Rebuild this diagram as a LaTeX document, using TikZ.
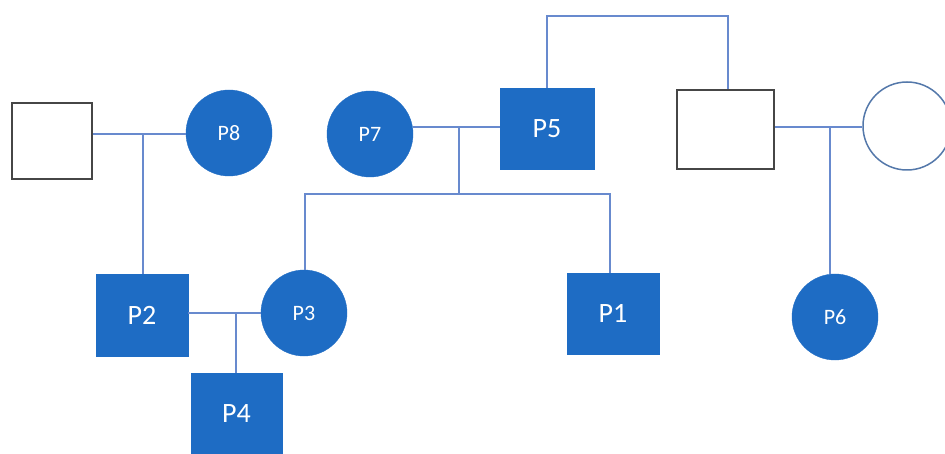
\documentclass[tikz,border=0pt]{standalone}
\usepackage{fontspec}
\setmainfont{Carlito}
\definecolor{pfill}{RGB}{30,108,196}
\definecolor{plink}{RGB}{104,138,206}
\definecolor{pgray}{RGB}{70,70,70}
\definecolor{pring}{RGB}{84,120,170}
\begin{document}
\begin{tikzpicture}[x=1pt,y=-1pt,
  male/.style={draw=pfill,fill=pfill,rectangle,inner sep=0pt,text=white,font=\fontsize{28}{28}\selectfont},
  female/.style={draw=pfill,fill=pfill,circle,inner sep=0pt,minimum size=86pt,text=white,font=\fontsize{22}{22}\selectfont},
  umale/.style={draw=pgray,line width=2.2pt,rectangle,inner sep=0pt},
  ufemale/.style={draw=pring,line width=1.5pt,circle,inner sep=0pt,minimum size=88pt},
  link/.style={draw=plink,line width=2pt}]
\useasboundingbox (0,0) rectangle (945,454);
\fill[white] (0,0) rectangle (945,454);
% nodes
\node[umale,minimum width=80pt,minimum height=76pt] (U1) at (52,141) {};
\node[female] (P8) at (229,133) {P8};
\node[male,minimum width=92pt,minimum height=82pt] (P2) at (142,315) {P2};
\node[female] (P3) at (304,313) {P3};
\node[male,minimum width=91pt,minimum height=82pt] (P4) at (236.5,414) {P4};
\node[female] (P7) at (370,134) {P7};
\node[male,minimum width=94pt,minimum height=81pt] (P5) at (547,128.5) {P5};
\node[male,minimum width=92pt,minimum height=81pt] (P1) at (613,313.5) {P1};
\node[umale,minimum width=97pt,minimum height=79pt] (U2) at (725.5,129.5) {};
\node[ufemale] (U3) at (907,126) {};
\node[female] (P6) at (835,317) {P6};
% junctions
\coordinate (c1) at (143,134);
\coordinate (c2) at (236,313);
\coordinate (c3) at (459,127);
\coordinate (c3b) at (459,194);
\coordinate (kl) at (305,194);
\coordinate (kr) at (610,194);
\coordinate (t1) at (547,16);
\coordinate (t2) at (728,16);
\coordinate (c4) at (830,127);
% connectors
\draw[link] (U1.east |- c1) -- (P8.west |- c1);
\draw[link] (c1) -- (P2.north -| c1);
\draw[link] (P2.east |- c2) -- (P3.west |- c2);
\draw[link] (c2) -- (P4.north -| c2);
\draw[link] (P7.east |- c3) -- (P5.west |- c3);
\draw[link] (c3) -- (c3b);
\draw[link] (P3.north -| kl) -- (kl) -- (kr) -- (P1.north -| kr);
\draw[link] (P5.north -| t1) -- (t1) -- (t2) -- (U2.north -| t2);
\draw[link] (U2.east |- c4) -- (U3.west |- c4);
\draw[link] (c4) -- (P6.north -| c4);
\end{tikzpicture}
\end{document}
